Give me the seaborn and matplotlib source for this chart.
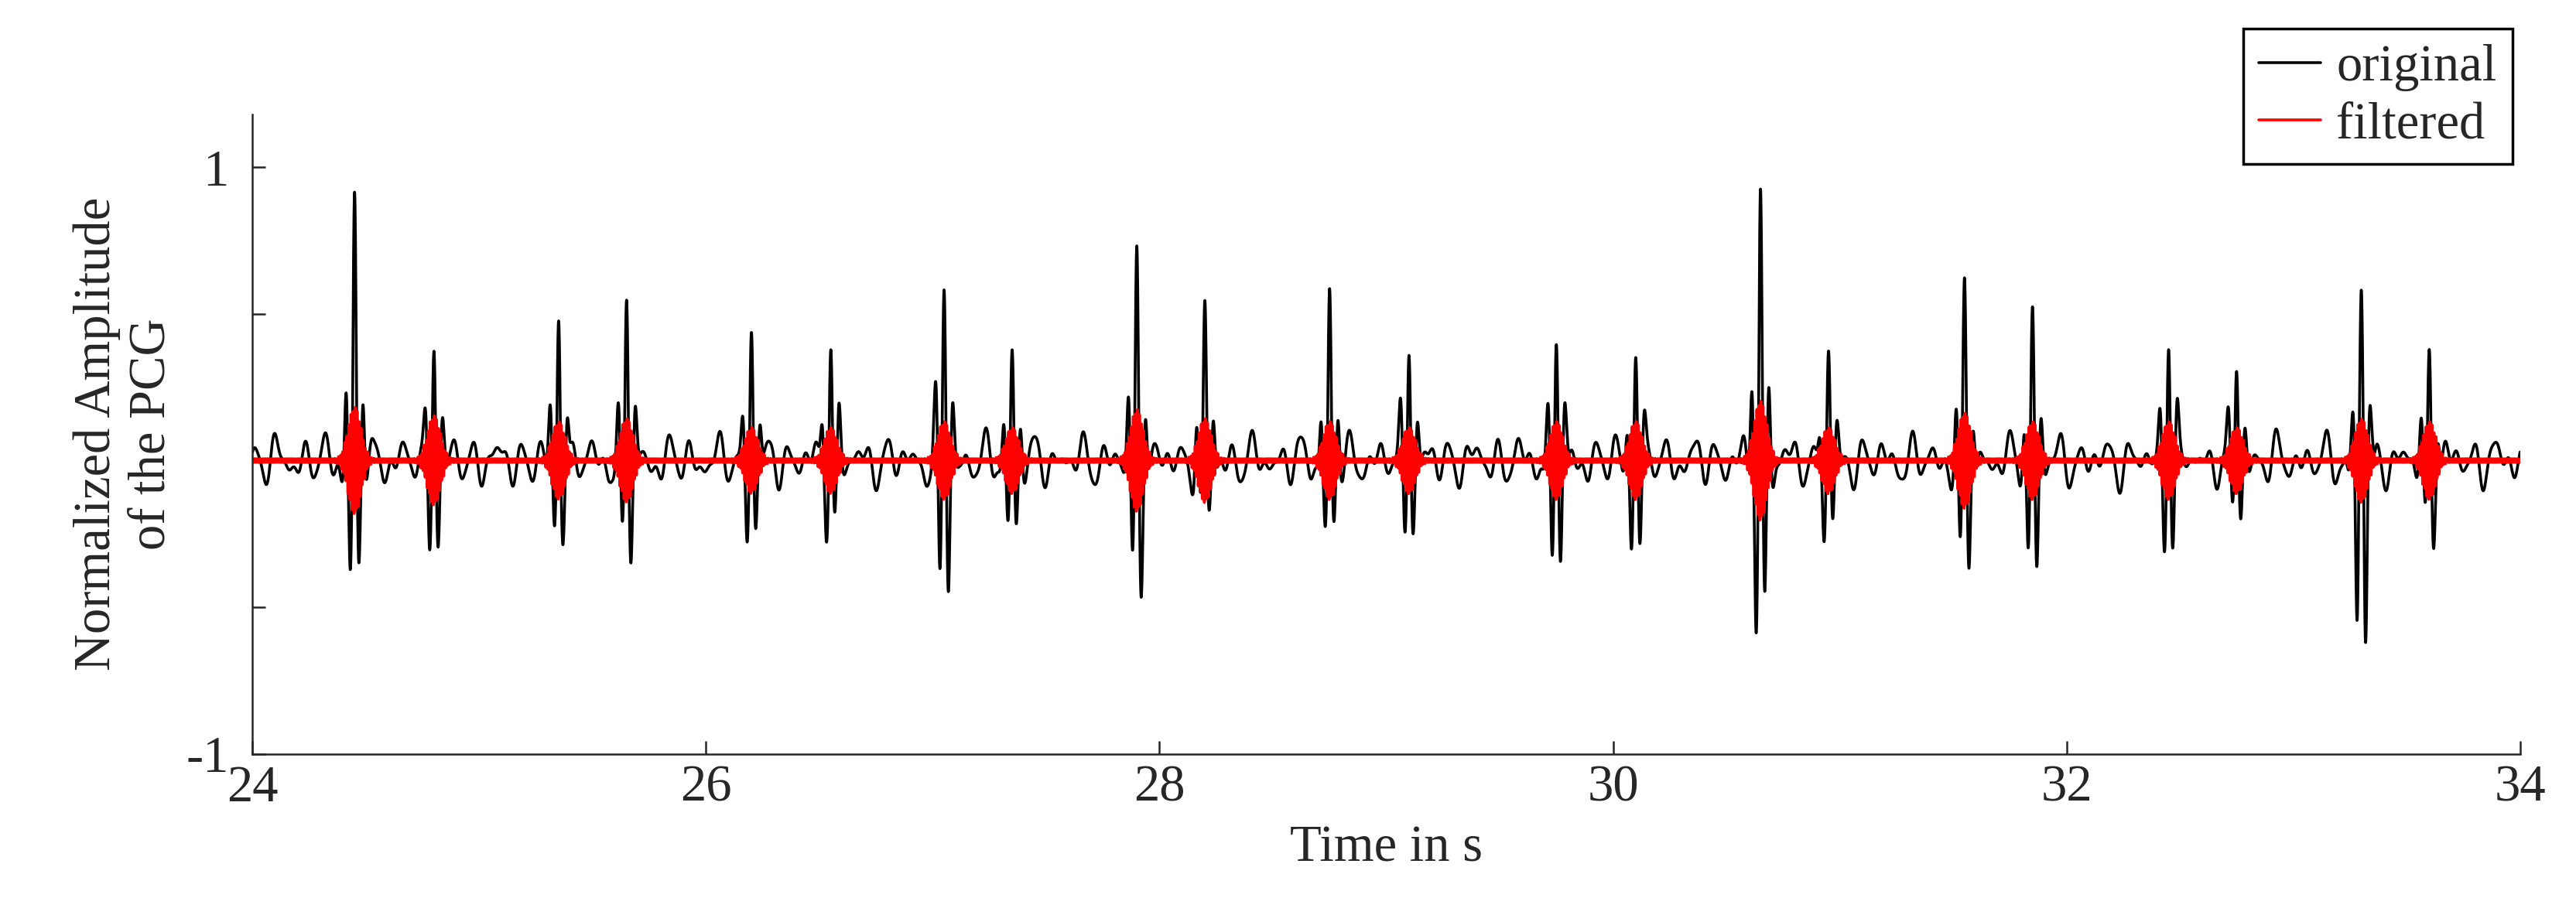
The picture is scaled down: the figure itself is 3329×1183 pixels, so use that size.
import numpy as np
import matplotlib
matplotlib.use("Agg")
import matplotlib.pyplot as plt
import seaborn as sns
import pandas as pd

# beat events: time, positive peak, negative peak, filtered amplitude
beat_times = [24.45, 24.8, 25.35, 25.65, 26.2, 26.55, 27.05, 27.35, 27.9, 28.2,
              28.75, 29.1, 29.75, 30.1, 30.65, 30.95, 31.55, 31.85, 32.45, 32.75, 33.3, 33.6]
pos_peaks = [0.87, 0.43, 0.52, 0.55, 0.45, 0.45, 0.60, 0.40, 0.70, 0.50,
             0.55, 0.45, 0.48, 0.38, 0.92, 0.35, 0.55, 0.50, 0.46, 0.35, 0.57, 0.40]
neg_peaks = [-0.52, -0.35, -0.30, -0.38, -0.30, -0.28, -0.55, -0.30, -0.50, -0.25,
             -0.30, -0.30, -0.45, -0.35, -0.70, -0.30, -0.45, -0.45, -0.35, -0.25, -0.77, -0.30]
filt_amp = [0.18, 0.15, 0.13, 0.14, 0.11, 0.11, 0.13, 0.11, 0.17, 0.14,
            0.13, 0.11, 0.13, 0.13, 0.20, 0.11, 0.16, 0.13, 0.13, 0.11, 0.14, 0.13]
x_ticks = [24, 26, 28, 30, 32, 34]
y_ticks = [-1, -0.5, 0, 0.5, 1]
y_labels = ["-1", "", "", "", "1"]

t = np.linspace(24, 34, 20000)
orig = (0.045*np.sin(2*np.pi*9.3*t) + 0.035*np.sin(2*np.pi*13.7*t + 1.0)
        + 0.02*np.sin(2*np.pi*5.1*t + 2.0) + 0.015*np.sin(2*np.pi*21.3*t + 0.5))
filt = 0.006*np.sin(2*np.pi*180*t)
for tb, p, n, fa in zip(beat_times, pos_peaks, neg_peaks, filt_amp):
    d = t - tb
    env = np.exp(-(d/0.035)**2)
    c = np.cos(2*np.pi*25*d)
    orig += env*np.where(c > 0, p*c, -n*c)
    filt += fa*np.exp(-(d/0.04)**2)*np.sin(2*np.pi*110*d)

df = pd.DataFrame({"t": t, "orig": orig, "filt": filt})

sns.set_style("ticks")
plt.rcParams['font.family'] = ['Liberation Serif', 'DejaVu Serif']
fig = plt.figure(figsize=(33.3, 11.83), dpi=100)
ax = fig.add_axes([0.098, 0.176, 0.88, 0.699])
sns.lineplot(data=df, x="t", y="orig", ax=ax, color="black", lw=2.6, label="original")
sns.lineplot(data=df, x="t", y="filt", ax=ax, color="red", lw=2.6, label="filtered")
ax.set_xlim(24, 34)
ax.set_ylim(-1, 1.18)
ax.set_xticks(x_ticks)
ax.set_yticks(y_ticks)
ax.set_yticklabels(y_labels)
ax.tick_params(direction="in", labelsize=48, length=12, width=1.8)
ax.tick_params(axis="x", pad=10)
ax.tick_params(axis="y", pad=22)
for s in ["top", "right"]:
    ax.spines[s].set_visible(False)
for s in ["left", "bottom"]:
    ax.spines[s].set_linewidth(1.8)
ax.set_xlabel("Time in s", fontsize=48, labelpad=12)
ax.set_ylabel("Normalized Amplitude\nof the PCG", fontsize=48, labelpad=10)
leg = ax.legend(loc="upper right", bbox_to_anchor=(0.985, 0.997), bbox_transform=fig.transFigure,
                fontsize=48, frameon=True, fancybox=False, edgecolor="black", handlelength=1.2,
                handletextpad=0.3, borderpad=0.3, labelspacing=0.2)
leg.get_frame().set_linewidth(2.5)
leg.get_frame().set_alpha(1)
fig.savefig("out.png", dpi=100)
